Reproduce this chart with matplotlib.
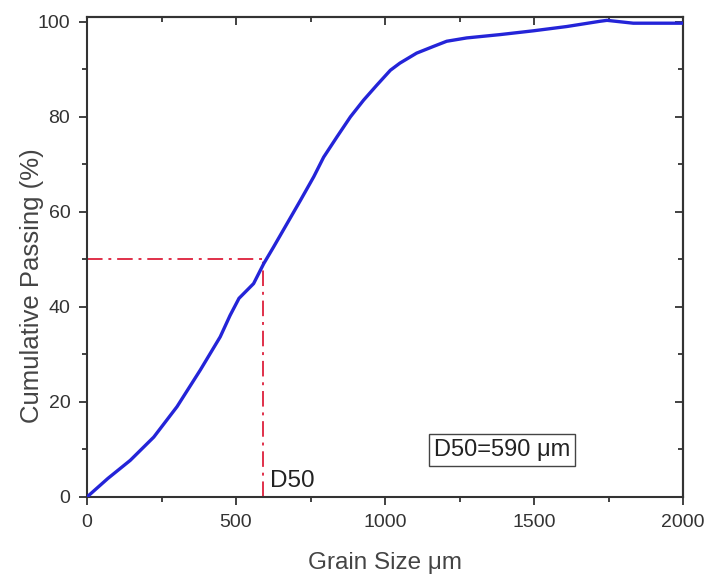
import matplotlib
matplotlib.use("Agg")
import matplotlib.pyplot as plt
from matplotlib.ticker import MultipleLocator

plt.rcParams['font.family'] = ['Liberation Sans', 'DejaVu Sans']

grain_size = [0, 70, 145, 224, 302, 380, 447, 480, 510, 559, 593, 626, 671,
              716, 761, 794, 839, 884, 928, 973, 1018, 1050, 1106, 1162, 1207,
              1274, 1386, 1498, 1610, 1721, 1745, 1833, 1910, 2000]
passing = [0, 3.9, 7.7, 12.6, 19.0, 26.7, 33.7, 38.2, 41.8, 44.9, 49.1, 52.6,
           57.5, 62.4, 67.4, 71.5, 75.8, 80.0, 83.5, 86.7, 89.8, 91.3, 93.4,
           94.8, 95.9, 96.6, 97.3, 98.1, 99.0, 100.1, 100.3, 99.7, 99.7, 99.7]
d50 = 590
d50_pct = 50

fig = plt.figure(figsize=(7.08, 5.75), dpi=100)
ax = fig.add_axes([0.1229, 0.1357, 0.8418, 0.8347])

ax.plot(grain_size, passing, color='#2424d8', lw=2.4, zorder=3,
        solid_joinstyle='round')
ax.plot([0, d50], [d50_pct, d50_pct], color='#e0304a', lw=1.4,
        linestyle=(0, (8, 3, 1.5, 3)), zorder=2)
ax.plot([d50, d50], [0, d50_pct], color='#e0304a', lw=1.4,
        linestyle=(0, (8, 3, 1.5, 3)), zorder=2)

ax.text(613, 2.1, 'D50', fontsize=17.5, color='#222222', ha='left', va='baseline')
ax.text(1393, 9.9, 'D50=590 \u03bcm', fontsize=17, color='#222222',
        ha='center', va='center',
        bbox=dict(boxstyle='square,pad=0.2', fc='white', ec='#444444', lw=1.0))

ax.set_xlim(0, 2000)
ax.set_ylim(0, 101)
ax.xaxis.set_major_locator(MultipleLocator(500))
ax.xaxis.set_minor_locator(MultipleLocator(250))
ax.yaxis.set_major_locator(MultipleLocator(20))
ax.yaxis.set_minor_locator(MultipleLocator(10))

ax.tick_params(which='both', direction='out', top=False, right=False,
               labelsize=14, colors='#333333', width=1.3)
ax.tick_params(which='major', length=6, pad=6)
ax.tick_params(which='minor', length=3.5)

# inward ticks on top and right
axt = ax.secondary_xaxis('top')
axt.xaxis.set_major_locator(MultipleLocator(500))
axt.xaxis.set_minor_locator(MultipleLocator(250))
axt.tick_params(which='both', direction='in', labeltop=False, width=1.3, colors='#333333')
axt.tick_params(which='major', length=6)
axt.tick_params(which='minor', length=3.5)
axr = ax.secondary_yaxis('right')
axr.yaxis.set_major_locator(MultipleLocator(20))
axr.yaxis.set_minor_locator(MultipleLocator(10))
axr.tick_params(which='both', direction='in', labelright=False, width=1.3, colors='#333333')
axr.tick_params(which='major', length=6)
axr.tick_params(which='minor', length=3.5)
for a in (ax, axt, axr):
    for s in a.spines.values():
        s.set_linewidth(1.5)
        s.set_color('#333333')

ax.set_xlabel('Grain Size \u03bcm', fontsize=17.5, color='#444444')
ax.set_ylabel('Cumulative Passing (%)', fontsize=18.5, color='#444444')
ax.xaxis.set_label_coords(0.5, -0.115)
ax.yaxis.set_label_coords(-0.073, 0.44)

fig.savefig('out.png', dpi=100)
